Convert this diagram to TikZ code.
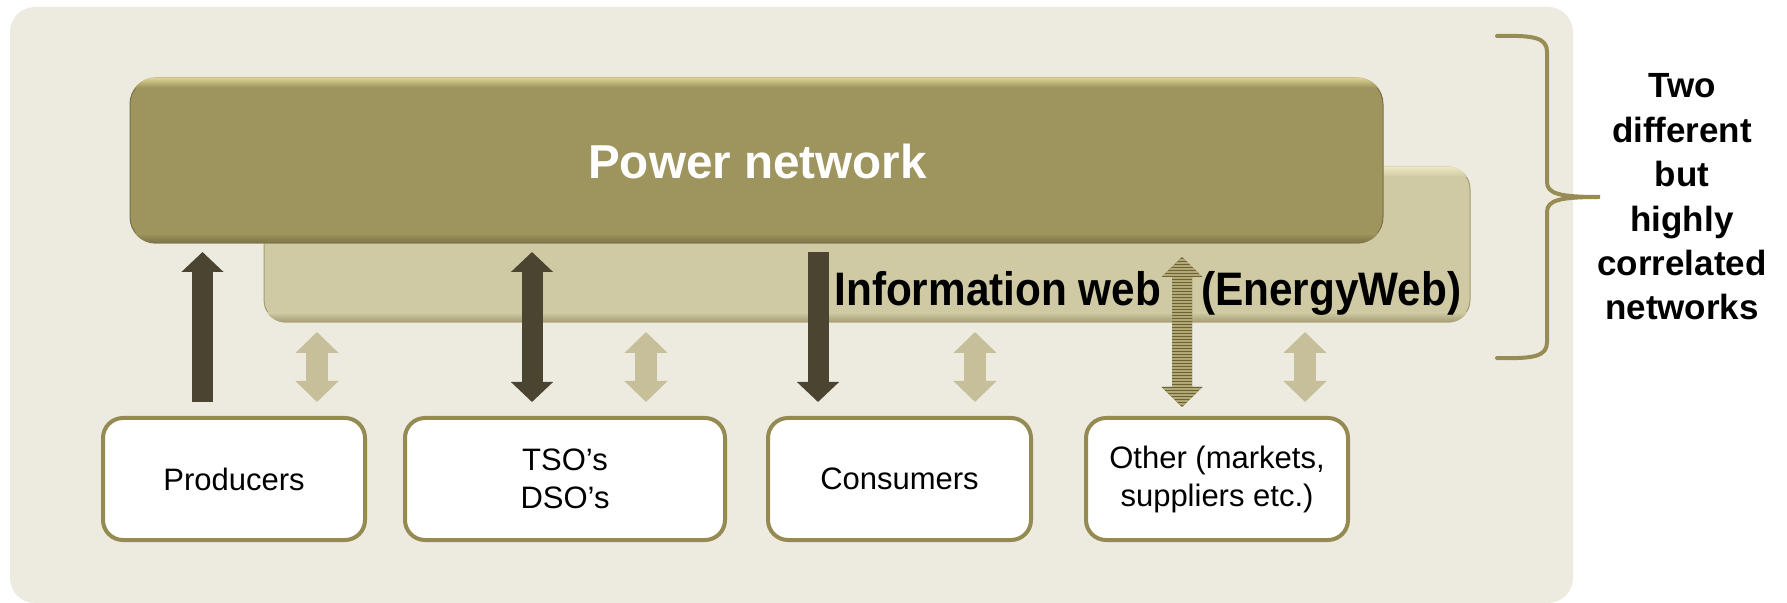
\documentclass[tikz,border=0pt]{standalone}
\usepackage{fontspec}
\setmainfont{Liberation Sans}
\usepackage{graphicx}
\usetikzlibrary{arrows.meta}
\definecolor{bgcol}{HTML}{EDEBE0}
\definecolor{pwcol}{HTML}{9E945E}
\definecolor{pwhi}{HTML}{DCD394}
\definecolor{pwsh}{HTML}{7A7146}
\definecolor{iwcol}{HTML}{CFCAA3}
\definecolor{iwhi}{HTML}{EEE9C2}
\definecolor{iwsh}{HTML}{A39C74}
\definecolor{darkcol}{HTML}{4A4430}
\definecolor{lightcol}{HTML}{C6BF99}
\definecolor{bordcol}{HTML}{958A52}
\definecolor{stdark}{HTML}{6B6239}
\definecolor{stlight}{HTML}{B2A874}
\definecolor{bracecol}{HTML}{978C53}
\begin{document}
\begin{tikzpicture}[x=0.5pt,y=-0.5pt,
  pwbox/.style={fill=pwcol, draw=pwsh, line width=0.5pt, rounded corners=13pt, inner sep=0pt,
    minimum width=626.5pt, minimum height=82.5pt, text=white,
    font=\bfseries\fontsize{23.8}{28}\selectfont},
  iwbox/.style={fill=iwcol, draw=iwsh, line width=0.5pt, rounded corners=11pt, inner sep=0pt,
    minimum width=603pt, minimum height=77.5pt},
  iwtext/.style={inner sep=0pt, anchor=base west, font=\bfseries\fontsize{23.5}{27}\selectfont},
  entbox/.style={draw=bordcol, line width=2pt, fill=white, rounded corners=10pt, align=center,
    inner sep=0pt, minimum height=61pt, font=\fontsize{15.5}{19}\selectfont},
  darkarr/.style={draw=darkcol, line width=10.5pt, line cap=butt},
  lightarr/.style={draw=lightcol, line width=11pt, line cap=butt},
  dtip/.tip={Triangle[width=20.5pt,length=10pt]},
  ltip/.tip={Triangle[width=21pt,length=10.5pt]},
  bracestyle/.style={draw=bracecol, line width=2pt, line cap=round},
  sidelabel/.style={align=center, inner sep=0pt, font=\bfseries\fontsize{17.5}{22.2}\selectfont}
]
\useasboundingbox (0,0) rectangle (1787,603);
% background panel
\fill[bgcol, rounded corners=12.5pt] (10,7) rectangle (1573,603);

% information web box
\node[iwbox] (iw) at (867,244.5) {};
\begin{scope}
  \clip[rounded corners=11pt] (iw.north west) rectangle (iw.south east);
  \shade[top color=iwhi, bottom color=iwcol] (iw.north west) rectangle ([yshift=-5pt]iw.north east);
  \shade[top color=iwcol, bottom color=iwsh] ([yshift=5pt]iw.south west) rectangle (iw.south east);
\end{scope}
\node[iwtext] (iwlabel) at (834,306) {\scalebox{0.9}[1]{Information web}\hspace{20pt}\scalebox{0.9}[1]{(EnergyWeb)}};

% power network box
\node[pwbox] (pw) at (756.5,160.5) {};
\begin{scope}
  \clip[rounded corners=13pt] (pw.north west) rectangle (pw.south east);
  \shade[top color=pwhi, bottom color=pwcol] (pw.north west) rectangle ([yshift=-5pt]pw.north east);
  \shade[top color=pwcol, bottom color=pwsh] ([yshift=5pt]pw.south west) rectangle (pw.south east);
\end{scope}
\node[inner sep=0pt, text=white, font=\bfseries\fontsize{23.8}{28}\selectfont, anchor=base] (pwlabel) at (757.5,179) {Power network};

% actor boxes
\node[entbox, minimum width=131pt] (prod) at (234,479) {Producers};
\node[entbox, minimum width=160pt] (tso) at (565,479) {TSO’s\\DSO’s};
\node[entbox, minimum width=131.5pt] (cons) at (899.5,479) {Consumers};
\node[entbox, minimum width=131pt] (other) at (1217,479) {Other (markets,\\suppliers etc.)};

% arrow end points
\coordinate (a1b) at (202.5,402); \coordinate (a1t) at (202.5,252);
\coordinate (a2b) at (532,402);   \coordinate (a2t) at (532,252);
\coordinate (a3b) at (818,402);   \coordinate (a3t) at (818,252);
\coordinate (l1b) at (317,402);   \coordinate (l1t) at (317,332);
\coordinate (l2b) at (646,402);   \coordinate (l2t) at (646,332);
\coordinate (l3b) at (975,402);   \coordinate (l3t) at (975,332);
\coordinate (l4b) at (1305,402);  \coordinate (l4t) at (1305,332);

\draw[darkarr, -dtip] (a1b) -- (a1t);
\draw[darkarr, dtip-dtip] (a2b) -- (a2t);
\draw[darkarr, -dtip] (a3t) -- (a3b);
\draw[lightarr, ltip-ltip] (l1b) -- (l1t);
\draw[lightarr, ltip-ltip] (l2b) -- (l2t);
\draw[lightarr, ltip-ltip] (l3b) -- (l3t);
\draw[lightarr, ltip-ltip] (l4b) -- (l4t);

% striped double arrow
\begin{scope}
  \clip (1182,257) -- (1202.5,277) -- (1192,277) -- (1192,387) -- (1202.5,387) -- (1182,407)
        -- (1161.5,387) -- (1172,387) -- (1172,277) -- (1161.5,277) -- cycle;
  \fill[stdark] (1150,250) rectangle (1215,410);
  \foreach \y in {257,260,...,407} \draw[stlight, line width=0.75pt] (1150,\y) -- (1215,\y);
\end{scope}

% brace
\draw[bracestyle] (1497,36) .. controls (1535,35) and (1547,38) .. (1547,52) -- (1547,182)
  .. controls (1547,194) and (1560,197) .. (1600,197)
  .. controls (1560,197) and (1547,200) .. (1547,212) -- (1547,342)
  .. controls (1547,356) and (1535,359) .. (1497,358);
\node[sidelabel] (side) at (1682,197) {Two\\different\\but\\highly\\correlated\\networks};
\end{tikzpicture}
\end{document}
